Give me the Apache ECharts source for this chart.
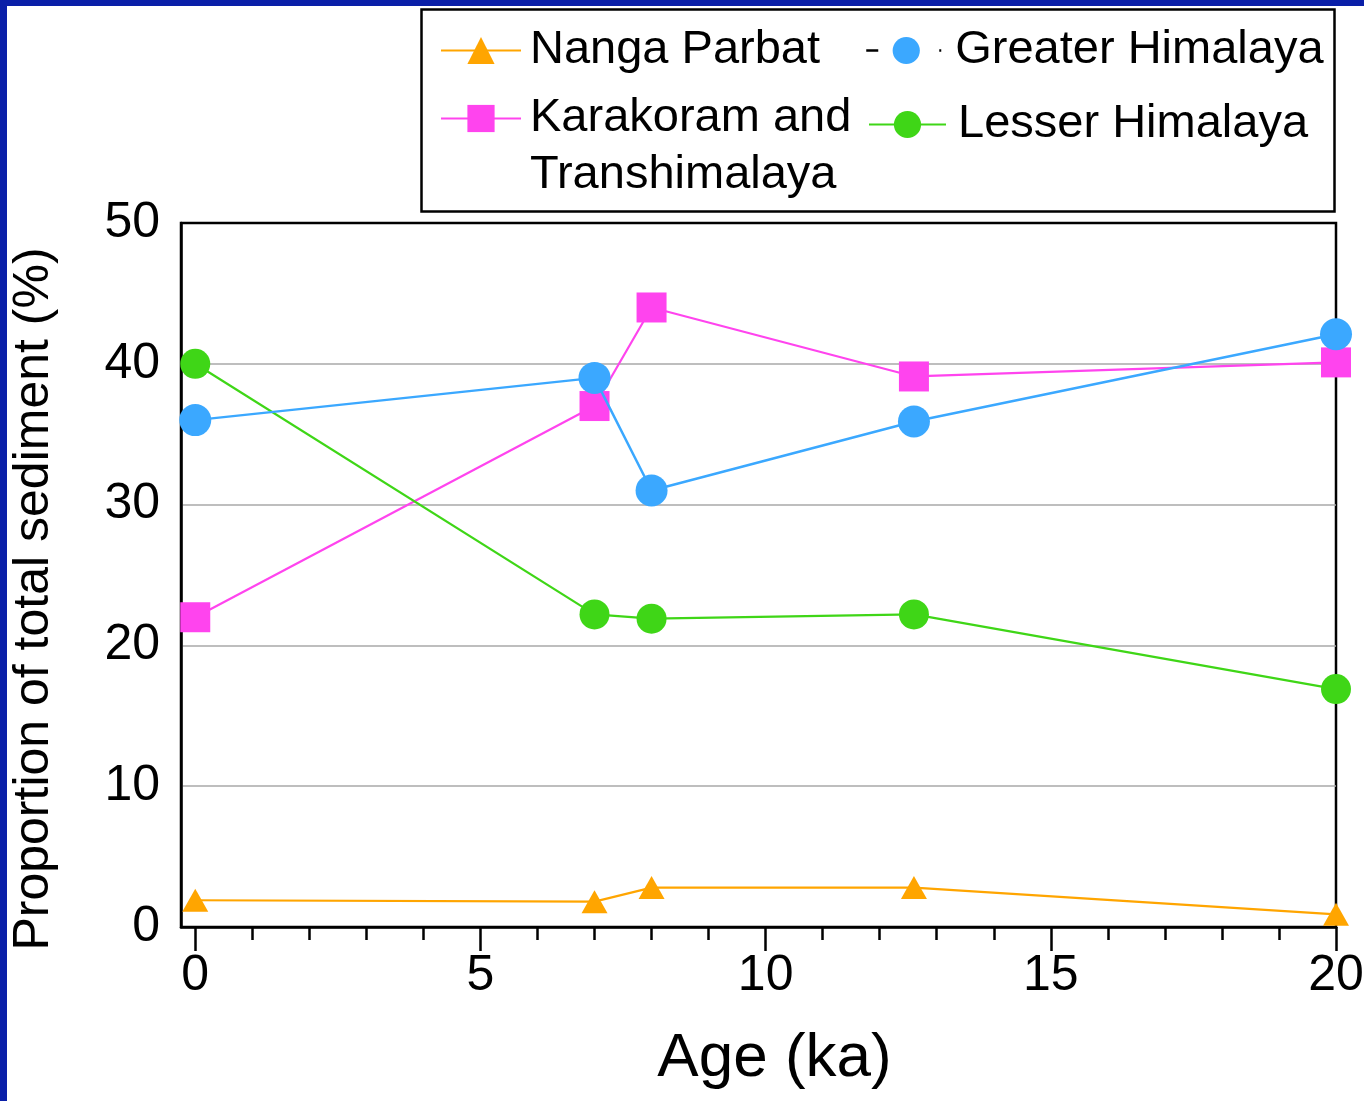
<!DOCTYPE html>
<html>
<head>
<meta charset="utf-8">
<script src="https://cdn.jsdelivr.net/npm/echarts@6/dist/echarts.min.js"></script>
<style>
html,body{margin:0;padding:0;background:#fff;}
#chart{width:1364px;height:1101px;}
</style>
</head>
<body>
<div id="chart"></div>
<script>
const ages = [0, 7, 8, 12.6, 20];
const nangaParbat = [1.9, 1.8, 2.8, 2.8, 0.9];
const karakoramTranshimalaya = [22.0, 37.0, 44.0, 39.1, 40.1];
const greaterHimalaya = [36.0, 39.0, 31.0, 35.9, 42.1];
const lesserHimalaya = [40.0, 22.2, 21.9, 22.2, 16.9];
const xMajorTicks = [0, 5, 10, 15, 20];
const xMinorTicks = [0, 1, 2, 3, 4, 5, 6, 7, 8, 9, 10, 11, 12, 13, 14, 15, 16, 17, 18, 19, 20];
const seriesNames = ['Nanga Parbat', 'Karakoram and Transhimalaya', 'Greater Himalaya', 'Lesser Himalaya'];

const FONT = '"Liberation Sans", Arial, Helvetica, sans-serif';
const pair = (ys) => ages.map((a, i) => [a, ys[i]]);

const chart = echarts.init(document.getElementById('chart'), null, {renderer: 'canvas'});

function legendText(padLeft) {
  return {fontFamily: FONT, fontSize: 47, color: '#000', lineHeight: 57, padding: [0, 0, 0, padLeft]};
}
const legendBase = {orient: 'vertical', padding: 0, itemWidth: 80, itemHeight: 34, selectedMode: false};

const option = {
  backgroundColor: '#fff',
  animation: false,
  grid: {left: 181, right: 28, top: 223, bottom: 174, show: true, borderColor: '#000', borderWidth: 2.5,
    containLabel: false, outerBoundsMode: 'none'},
  graphic: [
    {type: 'rect', left: 0, top: 0, z: 100, shape: {width: 7, height: 1101}, style: {fill: '#0a1fa8'}},
    {type: 'rect', left: 0, top: 0, z: 100, shape: {width: 1364, height: 6}, style: {fill: '#0a1fa8'}},
    {type: 'rect', left: 419, top: 7, z: 1, shape: {width: 913, height: 202}, style: {fill: 'none', stroke: '#000', lineWidth: 2.5}}
  ],
  legend: [
    Object.assign({}, legendBase, {left: 440, top: 22, textStyle: legendText(4), data: [seriesNames[0]]}),
    Object.assign({}, legendBase, {left: 440, top: 33, formatter: n => '\n' + n.replace('and ', 'and\n'),
      textStyle: legendText(4), data: [seriesNames[1]]}),
    Object.assign({}, legendBase, {left: 865, top: 22, textStyle: legendText(4),
      data: [{name: seriesNames[2], lineStyle: {color: '#000', width: 2.5, type: [12, 61, 2, 10]}}]}),
    Object.assign({}, legendBase, {left: 868, top: 96, itemWidth: 77, textStyle: legendText(7), data: [seriesNames[3]]})
  ],
  xAxis: [
    {
      type: 'value', position: 'bottom', min: -0.25, max: 20,
      name: 'Age (ka)', nameLocation: 'middle', nameGap: 101,
      nameTextStyle: {fontFamily: FONT, fontSize: 62, color: '#000', padding: [0, 0, 0, 32]},
      axisLine: {show: true, onZero: false, lineStyle: {color: '#000', width: 2.5}},
      axisTick: {show: true, length: 24, customValues: xMajorTicks, lineStyle: {color: '#000', width: 2.5}},
      axisLabel: {show: true, customValues: xMajorTicks, margin: 24, fontFamily: FONT, fontSize: 50, color: '#000'},
      splitLine: {show: false}
    },
    {
      type: 'value', position: 'bottom', min: -0.25, max: 20,
      axisLine: {show: false, onZero: false},
      axisTick: {show: true, length: 13, customValues: xMinorTicks, lineStyle: {color: '#000', width: 2.5}},
      axisLabel: {show: false},
      splitLine: {show: false}
    }
  ],
  yAxis: {
    type: 'value', min: 0, max: 50, interval: 10,
    name: 'Proportion of total sediment (%)', nameLocation: 'middle', nameGap: 122,
    nameTextStyle: {fontFamily: FONT, fontSize: 50, color: '#000', padding: [0, 48, 0, 0]},
    axisLine: {show: true, onZero: false, lineStyle: {color: '#000', width: 2.5}},
    axisTick: {show: false},
    axisLabel: {margin: 21, fontFamily: FONT, fontSize: 50, color: '#000'},
    splitLine: {show: true, showMinLine: false, showMaxLine: false, lineStyle: {color: '#a8a8a8', width: 1.5}}
  },
  series: [
    {name: seriesNames[0], type: 'line', data: pair(nangaParbat), symbol: 'triangle', symbolSize: [26, 23],
      itemStyle: {color: '#ffa500'}, lineStyle: {color: '#ffa500', width: 2.2}, z: 3},
    {name: seriesNames[1], type: 'line', data: pair(karakoramTranshimalaya), symbol: 'rect', symbolSize: 30,
      itemStyle: {color: '#ff44ee'}, lineStyle: {color: '#ff44ee', width: 2.2}, z: 4},
    {name: seriesNames[2], type: 'line', data: pair(greaterHimalaya), symbol: 'circle', symbolSize: 32,
      itemStyle: {color: '#3ba8ff'}, lineStyle: {color: '#3ba8ff', width: 2.5}, z: 5},
    {name: seriesNames[3], type: 'line', data: pair(lesserHimalaya), symbol: 'circle', symbolSize: 30,
      itemStyle: {color: '#3fd617'}, lineStyle: {color: '#3fd617', width: 2.2}, z: 4}
  ]
};
chart.setOption(option);
</script>
</body>
</html>
